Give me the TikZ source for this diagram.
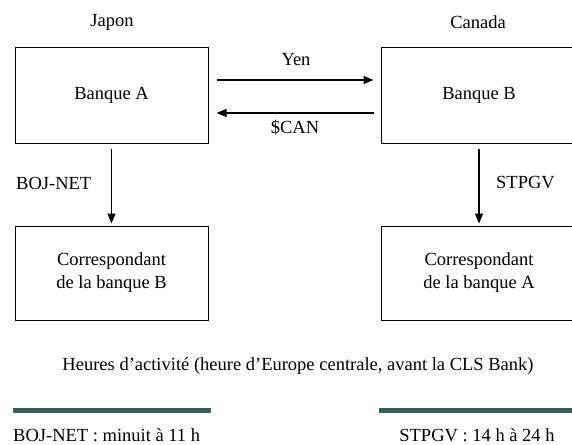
\documentclass[tikz,border=0pt]{standalone}
\usepackage{fontspec}
\setmainfont{Liberation Serif}
\usetikzlibrary{arrows.meta}
\definecolor{barre}{HTML}{365E55}
\begin{document}
\begin{tikzpicture}[x=1pt, y=-1pt, font=\fontsize{18.5}{23}\selectfont,
    banque/.style={draw, line width=1pt, minimum width=193pt, minimum height=95pt, align=center, inner sep=0pt},
    fleche/.style={line width=1.3pt, -{Triangle[length=10pt, width=8pt]}},
    texte/.style={inner sep=0pt}]
    \useasboundingbox (0,0) rectangle (572,444);

    % Noeuds
    \node[texte] (japon) at (112, 22) {Japon};
    \node[texte] (canada) at (478, 22) {Canada};
    \node[banque] (bA) at (111.5, 95.5) {Banque A};
    \node[banque, minimum width=196pt] (bB) at (479, 95.5) {Banque B};
    \node[banque, minimum height=94pt] (cB) at (111.5, 273) {Correspondant\\de la banque B};
    \node[banque, minimum width=196pt, minimum height=94pt] (cA) at (479, 273) {Correspondant\\de la banque A};

    % Etiquettes
    \node[texte] (yen) at (296, 60) {Yen};
    \node[texte] (can) at (295, 128) {\$CAN};
    \node[texte, anchor=west] (boj) at (16, 183) {BOJ-NET};
    \node[texte, anchor=west] (stp) at (496, 183) {STPGV};
    \node[texte] (heures) at (298, 366) {Heures d’activité (heure d’Europe centrale, avant la CLS Bank)};
    \node[texte, anchor=west] (hboj) at (13, 435) {BOJ-NET : minuit à 11 h};
    \node[texte] (hstp) at (477, 435) {STPGV : 14 h à 24 h};

    % Fleches
    \draw[fleche, shorten <=8pt, shorten >=7pt] ([yshift=15.5pt]bA.east) -- ([yshift=15.5pt]bB.west);
    \draw[fleche, shorten <=7pt, shorten >=8pt] ([yshift=-17.5pt]bB.west) -- ([yshift=-17.5pt]bA.east);
    \draw[fleche, shorten <=5pt, shorten >=2pt] (bA) -- (cB);
    \draw[fleche, shorten <=5pt, shorten >=2pt] (bB.south -| cA) -- (cA);

    % Barres
    \draw[barre, line width=5pt] (13, 410) -- (211, 410);
    \draw[barre, line width=5pt] (379, 410) -- (580, 410);
\end{tikzpicture}
\end{document}
